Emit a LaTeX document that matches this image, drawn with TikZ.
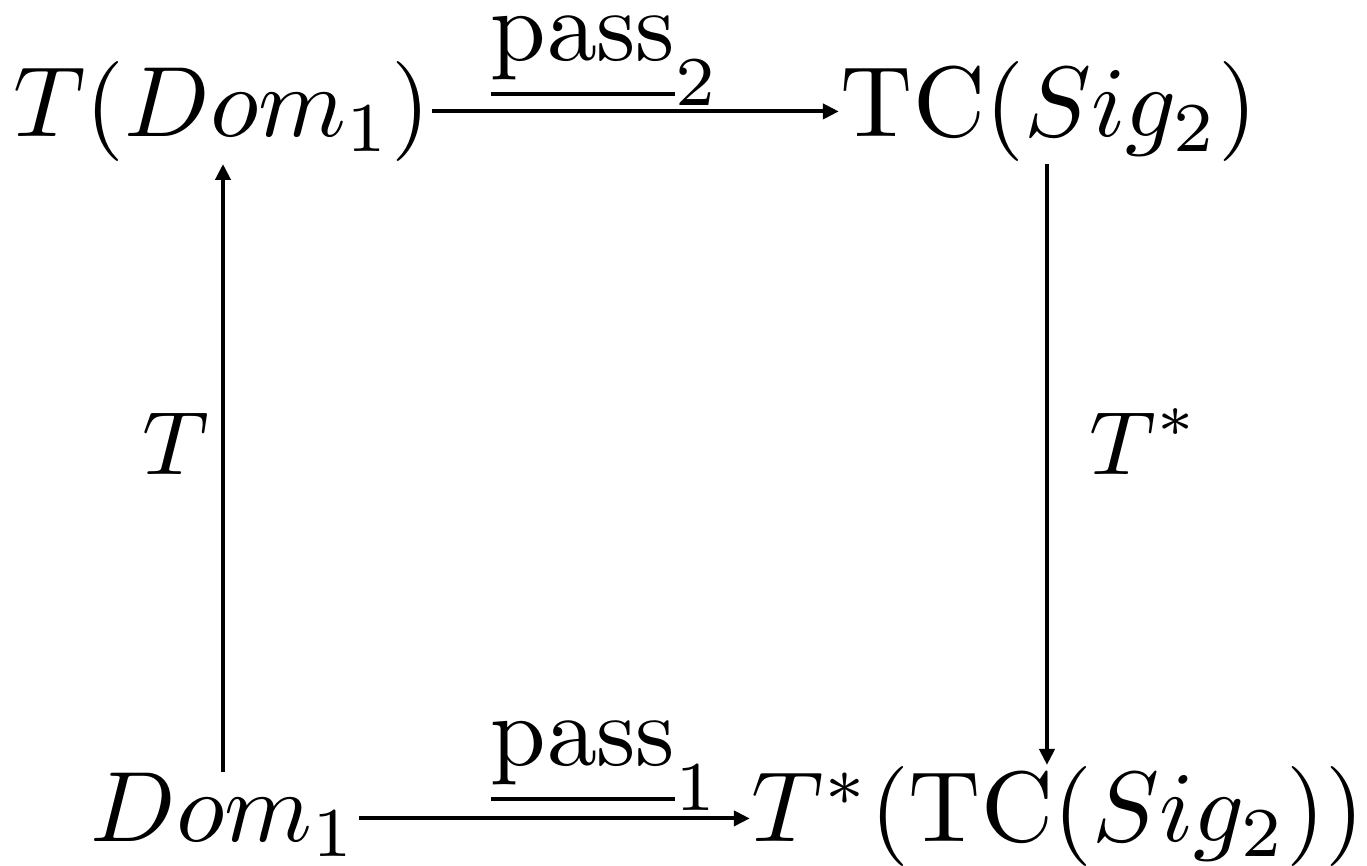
\documentclass[tikz,border=0pt]{standalone}
\usetikzlibrary{calc,arrows.meta}
\begin{document}
\begin{tikzpicture}[x=0.1pt,y=-0.1pt,
  obj/.style={inner sep=0pt,anchor=base,font=\fontsize{10}{12}\selectfont},
  lab/.style={inner sep=0pt,font=\fontsize{8.6}{10}\selectfont},
  plab/.style={inner sep=0pt,anchor=base west,font=\fontsize{9.6}{11}\selectfont},
  arr/.style={-{Triangle[length=1.6pt,width=1.5pt]},line width=0.4pt}]
\useasboundingbox (0,0) rectangle (1367,866);
\node[obj] (tl) at (222,137) {$T(Dom_1)$};
\node[obj] (tr) at (1049,137) {$\mathrm{TC}(Sig_2)$};
\node[obj] (bl) at (224,842) {$Dom_1$};
\node[obj] (br) at (1058,842) {$T^*(\mathrm{TC}(Sig_2))$};
\coordinate (cl) at (223,0);
\coordinate (cr) at (1047,0);
\draw[arr] ([yshift=0.4pt]tl.mid east) -- ([yshift=0.4pt]tr.mid west);
\draw[arr] ([yshift=0.2pt]bl.mid east) -- ([yshift=0.2pt]br.mid west);
\draw[arr] (bl.north -| cl) -- (tl.south -| cl);
\draw[arr] (tr.south -| cr) -- (br.north -| cr);
\node[plab] (l2) at (489,61) {$\underline{\mathrm{pass}}_2$};
\node[plab] (l1) at (489,766) {$\underline{\mathrm{pass}}_1$};
\node[lab,anchor=base] (lt) at (176,475) {$T$};
\node[lab,anchor=base west] (ls) at (1088,475) {$T^*$};
\end{tikzpicture}
\end{document}
